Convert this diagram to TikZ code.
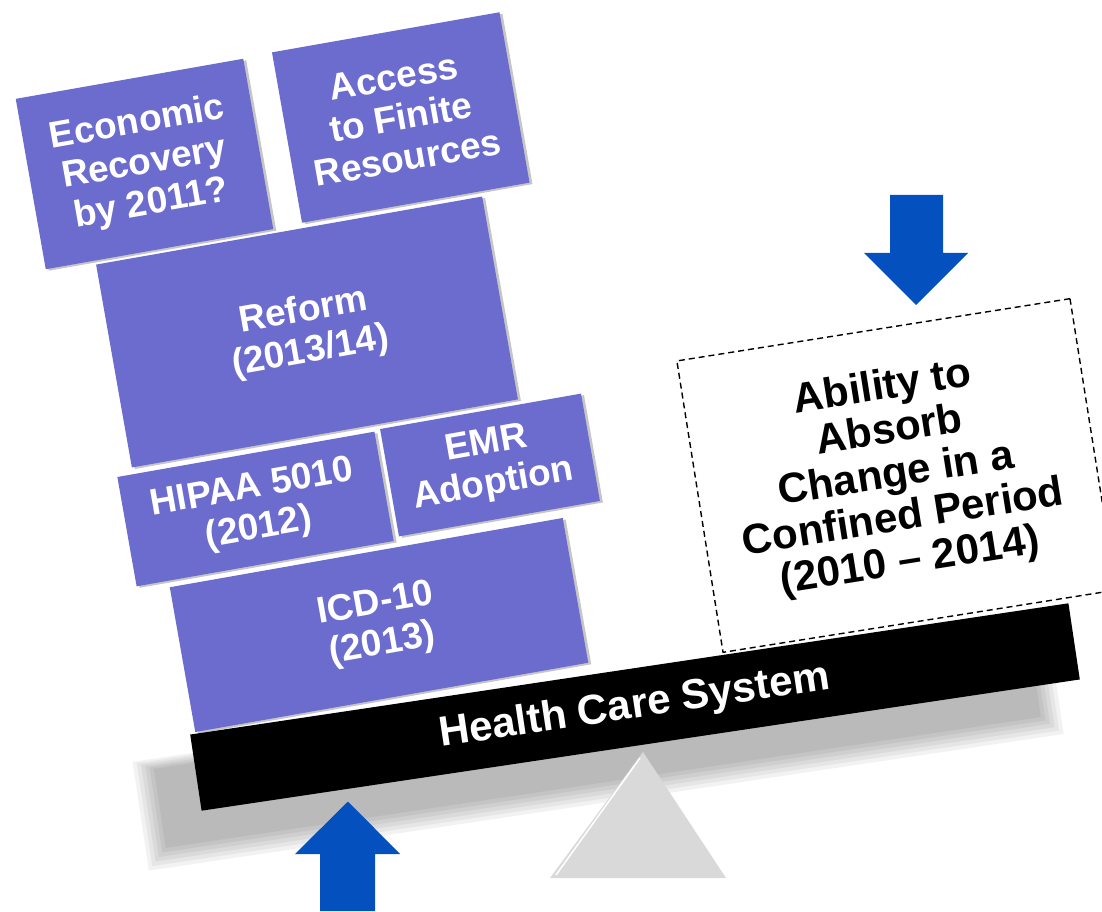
\documentclass[tikz,border=0pt]{standalone}
\usepackage{fontspec}
\setmainfont{Liberation Sans}
\usetikzlibrary{shadows}
\definecolor{boxfill}{RGB}{108,108,206}
\definecolor{arrowblue}{RGB}{4,80,190}
\definecolor{fulcrum}{RGB}{217,217,217}
\begin{document}
\begin{tikzpicture}[x=1pt,y=1pt,
  block/.style={rectangle, fill=boxfill, text=white,
    font=\bfseries\fontsize{37}{41}\selectfont, align=center,
    inner sep=0pt, rotate=10,
    drop shadow={shadow xshift=3pt, shadow yshift=-1.5pt, opacity=0.45, fill=gray}},
  beam/.style={rectangle, fill=black, text=white,
    font=\bfseries\fontsize{42}{44}\selectfont, align=center,
    inner sep=0pt, rotate=8.5},
  capacity/.style={rectangle, draw=black, line width=1.4pt,
    dash pattern=on 6pt off 4pt, text=black,
    font=\bfseries\fontsize{42}{44}\selectfont, align=center,
    inner sep=0pt, rotate=9},
  bluearrow/.style={fill=arrowblue}]
\useasboundingbox (0,0) rectangle (1102,911);

% soft shadow of the beam
\begin{scope}[rotate around={8.5:(635,204)}]
  \foreach \k in {0,...,5}{
    \fill[black, opacity=0.05]
      (150-\k*4, 134-\k*4) rectangle (1035+\k*4, 214+\k*2);
  }
\end{scope}

% fulcrum
\fill[fulcrum] (643,159) -- (726,33) -- (550,33) -- cycle;
\draw[white, line width=1.5pt] (640,153) -- (556,36);

% stacked blocks
\node[block, minimum width=231pt, minimum height=173pt] (econ) at (144.5,747)
  {Economic\\Recovery\\by 2011?};
\node[block, minimum width=231pt, minimum height=173pt] (access) at (400.75,793.5)
  {Access\\to Finite\\Resources};
\node[block, minimum width=392pt, minimum height=206pt] (reform) at (307,579)
  {Reform\\(2013/14)};
\node[block, minimum width=261pt, minimum height=111pt] (hipaa) at (255.5,402)
  {HIPAA 5010\\(2012)};
\node[block, minimum width=204pt, minimum height=109pt] (emr) at (490,446)
  {EMR\\Adoption};
\node[block, minimum width=399pt, minimum height=147pt] (icd) at (379,286)
  {ICD-10\\(2013)};

% dashed capacity box
\node[capacity, minimum width=398pt, minimum height=295pt] (ability) at (896.5,435.5)
  {Ability to\\Absorb\\Change in a\\Confined Period\\(2010 -- 2014)};

% beam
\node[beam, minimum width=888pt, minimum height=77pt] (hcs) at (635,204)
  {Health Care System};

% arrows
\fill[bluearrow] (890,716) -- (943,716) -- (943,658) -- (968,658)
  -- (916,606) -- (864,658) -- (890,658) -- cycle;
\fill[bluearrow] (320,0) -- (375,0) -- (375,57) -- (400,57)
  -- (348,109.5) -- (295,57) -- (320,57) -- cycle;
\end{tikzpicture}
\end{document}
